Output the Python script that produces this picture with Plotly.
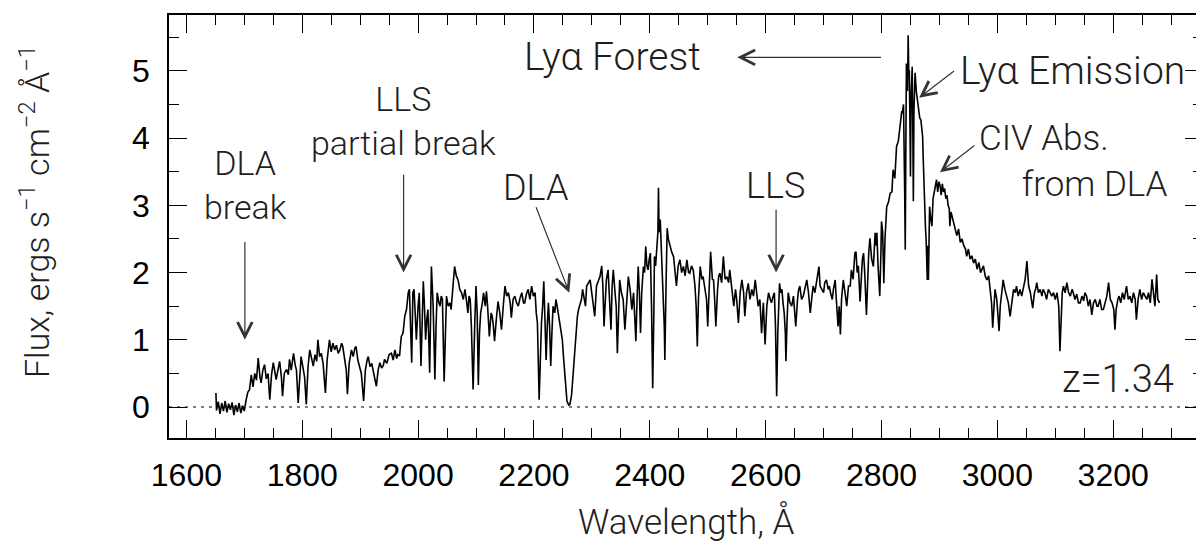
import plotly.graph_objects as go

# ---------------- data ----------------
wavelength = [
    1651, 1652, 1655, 1658, 1661, 1664, 1667, 1670, 1673, 1676, 1679, 1682, 1685, 1688, 1691, 1694, 1697, 1700,
    1703, 1706, 1709, 1712, 1715, 1718, 1721, 1724, 1727, 1729, 1732, 1735, 1738, 1741, 1744, 1747, 1750, 1753,
    1755, 1758, 1761, 1764, 1766, 1769, 1773, 1776, 1778, 1781, 1785, 1788, 1790, 1793, 1796, 1798, 1801, 1804,
    1807, 1810, 1813, 1816, 1819, 1822, 1825, 1827, 1830, 1833, 1836, 1840, 1843, 1847, 1850, 1853, 1856, 1859,
    1862, 1865, 1868, 1870, 1873, 1876, 1878, 1881, 1885, 1888, 1891, 1893, 1896, 1899, 1902, 1906, 1909, 1912,
    1914, 1917, 1920, 1922, 1925, 1928, 1931, 1934, 1937, 1940, 1942, 1946, 1950, 1954, 1957, 1960, 1963, 1965,
    1968, 1971, 1974, 1977, 1980, 1983, 1985, 1987, 1989, 1991, 1993, 1995, 1997, 2000, 2002, 2005, 2007, 2009,
    2011, 2013, 2015, 2017, 2020, 2023, 2026, 2029, 2031, 2033, 2036, 2038, 2040, 2042, 2045, 2047, 2049, 2052,
    2055, 2057, 2059, 2061, 2063, 2066, 2069, 2072, 2075, 2078, 2081, 2084, 2086, 2088, 2090, 2092, 2095, 2098,
    2100, 2102, 2104, 2106, 2108, 2111, 2113, 2116, 2118, 2120, 2123, 2126, 2128, 2130, 2132, 2135, 2138, 2141,
    2144, 2147, 2150, 2153, 2156, 2159, 2161, 2164, 2167, 2170, 2173, 2176, 2179, 2182, 2184, 2187, 2190, 2193,
    2196, 2199, 2202, 2204, 2206, 2209, 2211, 2213, 2215, 2217, 2219, 2221, 2223, 2225, 2227, 2229, 2231, 2233,
    2236, 2238, 2241, 2244, 2247, 2249, 2251, 2253, 2255, 2257, 2260, 2262, 2265, 2267, 2269, 2271, 2273, 2275,
    2277, 2279, 2282, 2284, 2287, 2289, 2291, 2294, 2297, 2299, 2302, 2305, 2308, 2311, 2314, 2317, 2319, 2321,
    2323, 2325, 2328, 2331, 2333, 2335, 2337, 2340, 2342, 2344, 2346, 2348, 2351, 2354, 2357, 2360, 2363, 2366,
    2369, 2372, 2374, 2376, 2378, 2380, 2382, 2384, 2386, 2389, 2391, 2393, 2395, 2397, 2399, 2401, 2403, 2405,
    2407, 2408, 2410, 2412, 2414, 2415, 2416, 2418, 2420, 2422, 2423, 2425, 2426, 2428, 2430, 2432, 2435, 2438,
    2441, 2443, 2446, 2449, 2452, 2455, 2458, 2461, 2464, 2467, 2469, 2472, 2475, 2478, 2480, 2482, 2484, 2487,
    2490, 2492, 2495, 2498, 2500, 2502, 2505, 2508, 2510, 2512, 2514, 2517, 2519, 2521, 2524, 2527, 2530, 2533,
    2536, 2538, 2541, 2543, 2545, 2548, 2550, 2553, 2556, 2559, 2562, 2564, 2567, 2570, 2573, 2576, 2579, 2582,
    2585, 2587, 2590, 2593, 2596, 2599, 2602, 2605, 2608, 2610, 2613, 2615, 2617, 2619, 2621, 2624, 2626, 2628,
    2630, 2632, 2634, 2635, 2637, 2639, 2642, 2645, 2648, 2650, 2652, 2655, 2657, 2659, 2662, 2665, 2668, 2671,
    2674, 2677, 2680, 2682, 2685, 2688, 2690, 2692, 2694, 2697, 2700, 2702, 2705, 2708, 2710, 2712, 2715, 2717,
    2720, 2722, 2725, 2727, 2729, 2731, 2734, 2737, 2740, 2743, 2746, 2748, 2751, 2754, 2756, 2758, 2760, 2763,
    2765, 2767, 2769, 2771, 2774, 2776, 2778, 2780, 2783, 2786, 2789, 2791, 2792, 2794, 2797, 2799, 2800, 2802,
    2804, 2806, 2809, 2812, 2815, 2818, 2820, 2823, 2826, 2829, 2831, 2833, 2835, 2836, 2838, 2840, 2841, 2842,
    2843, 2845, 2846, 2847, 2848, 2849, 2850, 2851, 2853, 2854, 2855, 2856, 2858, 2860, 2861, 2863, 2864, 2866,
    2868, 2870, 2871, 2872, 2873, 2875, 2876, 2877, 2879, 2880, 2881, 2882, 2883, 2885, 2887, 2889, 2891, 2893,
    2895, 2897, 2899, 2901, 2903, 2905, 2907, 2909, 2911, 2913, 2915, 2917, 2918, 2920, 2923, 2926, 2930, 2933,
    2936, 2939, 2942, 2945, 2947, 2950, 2953, 2956, 2959, 2962, 2965, 2968, 2971, 2973, 2976, 2979, 2982, 2985,
    2988, 2990, 2992, 2994, 2996, 2999, 3001, 3003, 3005, 3007, 3010, 3013, 3016, 3019, 3022, 3025, 3028, 3031,
    3033, 3036, 3039, 3042, 3045, 3048, 3051, 3054, 3057, 3059, 3061, 3064, 3066, 3068, 3071, 3074, 3077, 3079,
    3082, 3085, 3088, 3091, 3094, 3097, 3100, 3103, 3106, 3108, 3110, 3112, 3114, 3117, 3120, 3123, 3126, 3129,
    3131, 3134, 3137, 3140, 3143, 3146, 3149, 3151, 3154, 3157, 3160, 3163, 3166, 3169, 3172, 3174, 3177, 3180,
    3183, 3186, 3189, 3192, 3195, 3198, 3201, 3203, 3205, 3208, 3210, 3213, 3216, 3219, 3222, 3223, 3226, 3229,
    3232, 3235, 3238, 3240, 3243, 3246, 3249, 3252, 3255, 3258, 3261, 3264, 3267, 3270, 3272, 3275, 3277, 3280,
]

flux = [
    0.21, -0.05, 0.08, -0.10, 0.06, -0.06, 0.09, -0.08, 0.05, -0.04, 0.07, -0.12, 0.03, -0.07, 0.06, -0.09, 0.02, -0.06,
    0.10, 0.22, 0.26, 0.48, 0.30, 0.50, 0.40, 0.73, 0.45, 0.36, 0.55, 0.63, 0.42, 0.50, 0.11, 0.48, 0.66, 0.50,
    0.41, 0.55, 0.68, 0.45, 0.16, 0.50, 0.56, 0.48, 0.71, 0.55, 0.80, 0.62, 0.55, 0.06, 0.50, 0.75, 0.60, 0.45,
    0.04, 0.60, 0.85, 0.70, 0.61, 0.78, 0.68, 1.00, 0.75, 0.80, 0.65, 0.21, 0.70, 1.00, 0.82, 0.95, 0.85, 0.92,
    0.80, 0.85, 0.95, 0.90, 0.70, 0.55, 0.19, 0.65, 0.85, 0.75, 0.88, 0.90, 0.70, 0.61, 0.50, 0.09, 0.55, 0.70,
    0.75, 0.60, 0.65, 0.56, 0.45, 0.31, 0.55, 0.66, 0.58, 0.62, 0.71, 0.65, 0.78, 0.80, 0.70, 0.85, 0.72, 0.78,
    0.76, 1.05, 1.10, 1.35, 1.45, 1.70, 1.75, 1.20, 0.66, 1.70, 1.75, 1.40, 1.00, 1.50, 1.70, 0.61, 1.40, 1.87,
    1.50, 1.00, 1.30, 1.45, 0.51, 2.09, 1.50, 0.41, 1.20, 1.70, 1.55, 1.50, 1.65, 1.60, 0.38, 1.30, 1.65, 1.50,
    1.55, 1.45, 1.70, 1.80, 2.09, 1.95, 1.89, 1.75, 1.70, 1.60, 1.75, 1.55, 1.40, 1.65, 1.60, 1.20, 0.26, 1.30,
    1.80, 1.40, 0.33, 1.10, 1.40, 1.55, 1.70, 1.50, 1.72, 1.50, 1.05, 1.40, 1.35, 1.20, 0.98, 1.30, 1.57, 1.40,
    1.15, 1.50, 1.80, 1.65, 1.70, 1.55, 1.33, 1.60, 1.65, 1.55, 1.50, 1.62, 1.70, 1.55, 1.55, 1.68, 1.75, 1.60,
    1.80, 1.65, 1.70, 1.40, 1.25, 0.11, 0.90, 1.25, 1.50, 1.87, 1.30, 0.70, 1.20, 1.55, 1.20, 0.61, 1.10, 1.50,
    1.40, 1.60, 1.45, 1.30, 1.15, 1.00, 0.75, 0.51, 0.25, 0.09, 0.03, 0.04, 0.18, 0.41, 0.70, 1.00, 1.20, 1.35,
    1.45, 1.50, 1.60, 1.75, 1.55, 1.50, 1.80, 1.85, 1.89, 1.75, 1.50, 1.35, 1.80, 1.89, 1.94, 2.10, 1.80, 1.20,
    1.70, 1.89, 2.04, 1.40, 1.15, 1.80, 2.04, 1.70, 1.50, 0.80, 1.30, 1.89, 1.70, 1.60, 1.15, 1.60, 1.94, 1.75,
    1.45, 1.70, 1.40, 0.98, 1.60, 2.09, 1.70, 1.10, 1.70, 2.09, 2.00, 2.39, 2.10, 2.04, 2.20, 2.29, 1.50, 0.28,
    1.40, 2.24, 2.10, 2.39, 2.60, 3.26, 2.60, 2.79, 2.39, 2.10, 1.65, 1.20, 0.70, 1.80, 2.66, 2.50, 2.39, 2.30,
    2.24, 2.10, 1.80, 2.10, 2.19, 2.00, 2.09, 1.95, 2.19, 2.00, 1.99, 2.10, 2.04, 1.80, 1.50, 0.90, 1.60, 2.09,
    1.90, 1.94, 1.80, 1.60, 1.20, 1.70, 2.31, 1.90, 1.89, 1.60, 1.20, 1.75, 1.95, 1.99, 1.85, 2.24, 1.90, 1.94,
    1.85, 2.04, 1.80, 1.65, 1.50, 1.75, 1.60, 1.25, 1.70, 1.89, 1.70, 1.35, 1.70, 1.84, 1.60, 1.75, 1.65, 1.89,
    1.70, 1.50, 1.60, 1.10, 1.55, 0.93, 1.50, 1.70, 1.60, 1.55, 1.65, 1.70, 1.20, 0.16, 1.10, 1.84, 1.70, 1.75,
    1.55, 1.40, 1.10, 0.68, 1.30, 1.70, 1.55, 1.50, 1.65, 1.45, 1.20, 1.60, 1.75, 1.80, 1.60, 1.65, 1.75, 1.89,
    1.70, 1.40, 1.65, 1.80, 1.70, 1.85, 1.95, 2.09, 1.80, 1.75, 1.70, 1.85, 1.89, 1.75, 1.80, 1.70, 1.60, 1.75,
    1.89, 1.60, 1.20, 1.50, 1.08, 1.60, 1.89, 1.70, 1.50, 1.80, 1.80, 2.04, 1.90, 2.29, 2.31, 2.00, 2.10, 1.57,
    1.85, 2.20, 2.29, 2.00, 1.37, 1.90, 2.30, 2.51, 2.20, 2.09, 2.59, 2.40, 2.59, 2.10, 1.65, 2.30, 2.76, 2.60,
    1.84, 2.50, 2.98, 3.05, 3.18, 3.20, 3.53, 3.40, 3.88, 3.95, 4.10, 4.27, 4.40, 4.37, 4.50, 3.20, 2.34, 3.80,
    5.11, 4.70, 5.53, 5.00, 5.01, 4.30, 3.43, 4.60, 5.06, 4.20, 3.06, 4.40, 4.97, 4.70, 4.62, 4.50, 4.42, 4.30,
    4.27, 4.10, 4.02, 3.70, 3.28, 2.90, 2.64, 2.50, 1.89, 2.40, 1.89, 2.70, 2.98, 2.80, 2.69, 3.10, 3.18, 3.30,
    3.38, 3.20, 3.35, 3.30, 3.15, 3.32, 3.20, 3.25, 3.10, 3.15, 3.00, 2.95, 2.69, 2.90, 2.80, 2.70, 2.55, 2.65,
    2.45, 2.50, 2.40, 2.35, 2.24, 2.35, 2.20, 2.25, 2.14, 2.20, 2.05, 2.15, 2.00, 2.04, 2.10, 1.95, 1.89, 1.95,
    1.70, 1.55, 1.18, 1.60, 1.75, 1.60, 1.40, 1.13, 1.50, 1.70, 1.89, 1.75, 1.65, 1.55, 1.35, 1.60, 1.75, 1.70,
    1.80, 1.65, 1.75, 1.65, 1.80, 1.90, 2.17, 1.80, 1.70, 1.60, 1.47, 1.70, 1.75, 1.85, 1.70, 1.75, 1.65, 1.75,
    1.70, 1.60, 1.75, 1.70, 1.65, 1.70, 1.60, 1.70, 1.50, 0.83, 1.40, 1.70, 1.80, 1.70, 1.85, 1.70, 1.65, 1.75,
    1.70, 1.60, 1.68, 1.55, 1.55, 1.65, 1.58, 1.70, 1.65, 1.50, 1.60, 1.37, 1.55, 1.60, 1.50, 1.50, 1.60, 1.45,
    1.45, 1.55, 1.65, 1.85, 1.60, 1.55, 1.45, 1.15, 1.45, 1.60, 1.65, 1.55, 1.70, 1.60, 1.75, 1.80, 1.60, 1.65,
    1.55, 1.70, 1.60, 1.30, 1.60, 1.75, 1.60, 1.70, 1.65, 1.60, 1.70, 1.55, 1.90, 1.65, 1.50, 1.97, 1.60, 1.55,
]

x_tick_values = [1600, 1800, 2000, 2200, 2400, 2600, 2800, 3000, 3200]
x_tick_labels = ["1600", "1800", "2000", "2200", "2400", "2600", "2800", "3000", "3200"]
y_tick_values = [0, 1, 2, 3, 4, 5]
y_tick_labels = ["0", "1", "2", "3", "4", "5"]

x_range = [1570, 3355]
y_range = [-0.46, 5.83]

NB = "\u00a0"
# text labels: text, wavelength, flux, font size, horizontal anchor
label_text = ["DLA<br>break", "LLS<br>partial break", "DLA", "LLS", "Lyα Forest",
              "Lyα Emission", "CIV Abs.<br>" + NB * 5 + "from DLA", "z=1.34"]
label_x = [1702, 1975, 2202, 2617, 2336, 3129, 2965, 3208]
label_y = [3.30, 4.26, 3.26, 3.28, 5.21, 5.00, 3.655, 0.41]
label_size = [34, 34, 36, 36, 39, 39, 35, 38]
label_anchor = ["center", "center", "center", "center", "center", "center", "left", "center"]

# arrows: tip (x, y) and tail (x, y)
arrow_tip_x = [1701, 1975, 2261, 2618, 2551, 2865, 2901]
arrow_tip_y = [1.00, 2.00, 1.70, 2.00, 5.20, 4.60, 3.49]
arrow_tail_x = [1701, 1975, 2202, 2618, 2801, 2927, 2962]
arrow_tail_y = [2.50, 3.50, 3.01, 2.98, 5.20, 5.01, 3.90]

# ---------------- figure ----------------
# the page adds an 8px body margin, so the figure is 8px smaller and shifted
LIGHT = "Roboto, DejaVu Sans, sans-serif"
TEXT_COLOR = "#1e1e1e"
TICK_FONT = dict(family="Liberation Sans, Arial, sans-serif", size=32, color="black")

fig = go.Figure()
fig.add_trace(go.Scatter(
    x=wavelength, y=flux, mode="lines",
    line=dict(color="black", width=1.6),
    hoverinfo="skip", showlegend=False,
))

# zero level dotted line
fig.add_shape(type="line", xref="paper", yref="y", x0=0, x1=1, y0=0, y1=0,
              line=dict(color="#555555", width=1.5, dash="3px,5px"), layer="below")

annotations = []
for t, xx, yy, fs, anc in zip(label_text, label_x, label_y, label_size, label_anchor):
    annotations.append(dict(x=xx, y=yy, xref="x", yref="y", text=t, showarrow=False,
                            xanchor=anc, yanchor="middle",
                            align="left" if anc == "left" else "center",
                            font=dict(family=LIGHT, size=fs, color=TEXT_COLOR, weight=300)))
for tx, ty, sx, sy in zip(arrow_tip_x, arrow_tip_y, arrow_tail_x, arrow_tail_y):
    annotations.append(dict(x=tx, y=ty, xref="x", yref="y", ax=sx, ay=sy, axref="x", ayref="y",
                            text=NB, font=dict(size=4, color="white"), showarrow=True, arrowhead=5,
                            arrowsize=2.4, arrowwidth=1.2, arrowcolor="#333333",
                            standoff=0, startstandoff=0, borderpad=0))

# axis titles
annotations.append(dict(
    x=0, y=0.534, xref="paper", yref="paper", xshift=-134,
    text="Flux, ergs s<sup>−1</sup> cm<sup>−2</sup> Å<sup>−1</sup>",
    textangle=-90, showarrow=False, xanchor="center", yanchor="middle",
    font=dict(family=LIGHT, size=34, color=TEXT_COLOR, weight=300)))
annotations.append(dict(
    x=0.5, y=0, xref="paper", yref="paper", yshift=-83,
    text="Wavelength, Å", showarrow=False, xanchor="center", yanchor="middle",
    font=dict(family=LIGHT, size=35, color=TEXT_COLOR, weight=300)))

fig.update_layout(
    width=1196, height=538,
    margin=dict(l=161, r=1, t=7, b=108, autoexpand=False),
    paper_bgcolor="white", plot_bgcolor="white",
    annotations=annotations,
    showlegend=False,
)

fig.update_xaxes(
    range=x_range, tickmode="array", tickvals=x_tick_values, ticktext=x_tick_labels,
    ticks="inside", ticklen=18, tickwidth=1.3, tickcolor="black",
    minor=dict(dtick=50, tick0=1600, ticks="inside", ticklen=10, tickwidth=1.3, tickcolor="black", showgrid=False),
    showline=True, linecolor="black", linewidth=1.5, mirror="ticks",
    showgrid=False, zeroline=False, tickfont=TICK_FONT, ticklabelstandoff=8, automargin=False,
)
fig.update_yaxes(
    range=y_range, tickmode="array", tickvals=y_tick_values, ticktext=y_tick_labels,
    ticks="inside", ticklen=18, tickwidth=1.3, tickcolor="black",
    minor=dict(dtick=0.5, tick0=0, ticks="inside", ticklen=10, tickwidth=1.3, tickcolor="black", showgrid=False),
    showline=True, linecolor="black", linewidth=1.5, mirror="ticks",
    showgrid=False, zeroline=False, tickfont=TICK_FONT, ticklabelstandoff=11, automargin=False,
)

fig.write_html("out.html")
